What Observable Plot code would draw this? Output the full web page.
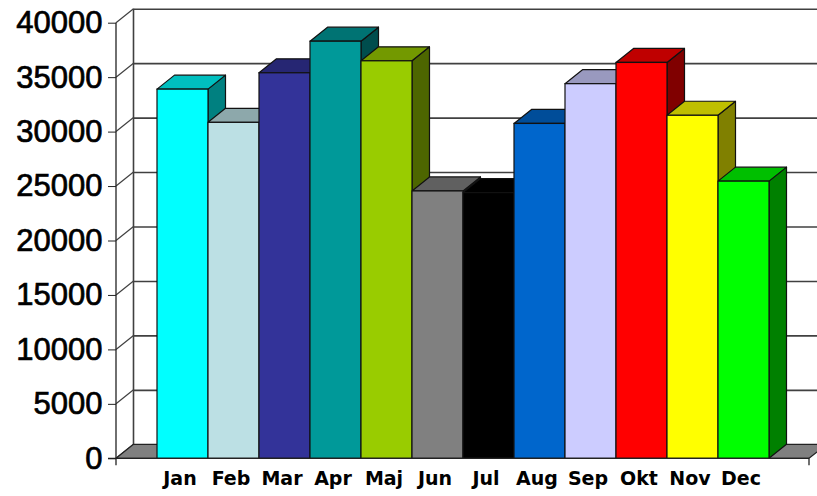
<!DOCTYPE html>
<html>
<head>
<meta charset="utf-8">
<script src="https://cdn.jsdelivr.net/npm/d3@7"></script>
<script src="https://cdn.jsdelivr.net/npm/@observablehq/plot@0.6"></script>
<style>
  html, body { margin: 0; padding: 0; background: #fff; }
  #chart svg { display: block; overflow: visible; }
  #chart g[aria-label="y-axis tick label"] text { stroke: #000; stroke-width: 0.7px; }
</style>
</head>
<body>
<div id="chart"></div>
<script>
// ---- data ----
const months = ["Jan", "Feb", "Mar", "Apr", "Maj", "Jun", "Jul", "Aug", "Sep", "Okt", "Nov", "Dec"];
const values = [33900, 30850, 35400, 38300, 36500, 24550, 24400, 30750, 34400, 36350, 31500, 25450];
const colors = ["#00FFFF", "#BCE0E4", "#333399", "#009999", "#99CC00", "#808080",
                "#000000", "#0066CC", "#CCCCFF", "#FF0000", "#FFFF00", "#00FF00"];
const yTicks = [0, 5000, 10000, 15000, 20000, 25000, 30000, 35000, 40000];

const data = months.map((m, i) => ({month: m, value: values[i], color: colors[i]}));

// ---- 3D look ----
const DX = 17.5, DY = 14;
const shade = (c, k) => { const r = d3.rgb(c); return d3.rgb(r.r * k, r.g * k, r.b * k).formatHex(); };

function custom(draw) {
  return function (...args) {
    const scales = args.find(a => a && typeof a.x === "function" && typeof a.y === "function");
    const dims = args.find(a => a && typeof a.width === "number" && typeof a.marginLeft === "number");
    const g = d3.create("svg:g");
    draw(g, scales, dims);
    return g.node();
  };
}
const poly = (g, pts, fill, stroke, sw) =>
  g.append("path").attr("d", "M" + pts.map(p => p.join(",")).join("L") + "Z")
   .attr("fill", fill).attr("stroke", stroke).attr("stroke-width", sw).attr("stroke-linejoin", "round");
const line = (g, x1, y1, x2, y2, stroke, sw) =>
  g.append("line").attr("x1", x1).attr("y1", y1).attr("x2", x2).attr("y2", y2)
   .attr("stroke", stroke).attr("stroke-width", sw);

const bandWidth = (s) => s.x(months[1]) - s.x(months[0]);

// back wall: left edge + tick connectors
const wall = custom((g, s, d) => {
  const xl = d.marginLeft;
  line(g, xl + DX, s.y(40000) - DY, xl + DX, s.y(0) - DY, "#404040", 1.6);
  for (const t of yTicks) line(g, xl, s.y(t), xl + DX, s.y(t) - DY, "#404040", 1.3);
});

// floor
const floor = custom((g, s, d) => {
  const xl = d.marginLeft, xr = d.width - d.marginRight, y0 = s.y(0);
  poly(g, [[xl, y0], [xr, y0], [xr + DX, y0 - DY], [xl + DX, y0 - DY]], "#808080", "#222", 1.2);
});

// sides and tops of bars
const sides = custom((g, s) => {
  const bw = bandWidth(s);
  const y0 = s.y(0);
  for (const r of data) {
    const xr = s.x(r.month) + bw, yv = s.y(r.value);
    poly(g, [[xr, yv], [xr + DX, yv - DY], [xr + DX, y0 - DY], [xr, y0]], shade(r.color, 0.5), "#111", 1.2);
  }
});
const tops = custom((g, s) => {
  const bw = bandWidth(s);
  for (const r of data) {
    const xl = s.x(r.month), yv = s.y(r.value);
    poly(g, [[xl, yv], [xl + bw, yv], [xl + bw + DX, yv - DY], [xl + DX, yv - DY]], shade(r.color, 0.75), "#111", 1.2);
  }
});

// front axis lines
const frontAxis = custom((g, s, d) => {
  const xl = d.marginLeft, xr = d.width - d.marginRight, y0 = s.y(0);
  line(g, xl, s.y(40000), xl, y0 + 7, "#222", 1.3);
  line(g, xl - 8, y0, xr, y0, "#222", 1.3);
  line(g, xr, y0, xr, y0 + 7, "#222", 1.3);
});

const chart = Plot.plot({
  width: 817,
  height: 496,
  marginLeft: 116,
  marginRight: 8,
  marginTop: 22.7,
  marginBottom: 37.7,
  x: {type: "band", domain: months, paddingInner: 0, paddingOuter: 0.74},
  y: {domain: [0, 40000]},
  marks: [
    Plot.ruleY(yTicks.slice(1), {dx: DX, dy: -DY, stroke: "#404040", strokeWidth: 1.6}),
    wall,
    floor,
    sides,
    tops,
    Plot.rectY(data, {x: "month", y: "value", fill: "color", stroke: "#111", strokeWidth: 1.2}),
    frontAxis,
    Plot.axisY(yTicks, {tickFormat: d => String(d), tickSize: 8, tickPadding: 6, label: null,
      fontSize: 31, fontFamily: "Liberation Sans, Arial, sans-serif", stroke: "#222"}),
    Plot.axisX({tickSize: 0, tickPadding: 13, label: null, dx: -3,
      fontSize: 19, fontWeight: "bold", fontFamily: "DejaVu Sans, Verdana, sans-serif"})
  ]
});
document.getElementById("chart").append(chart);
</script>
</body>
</html>
